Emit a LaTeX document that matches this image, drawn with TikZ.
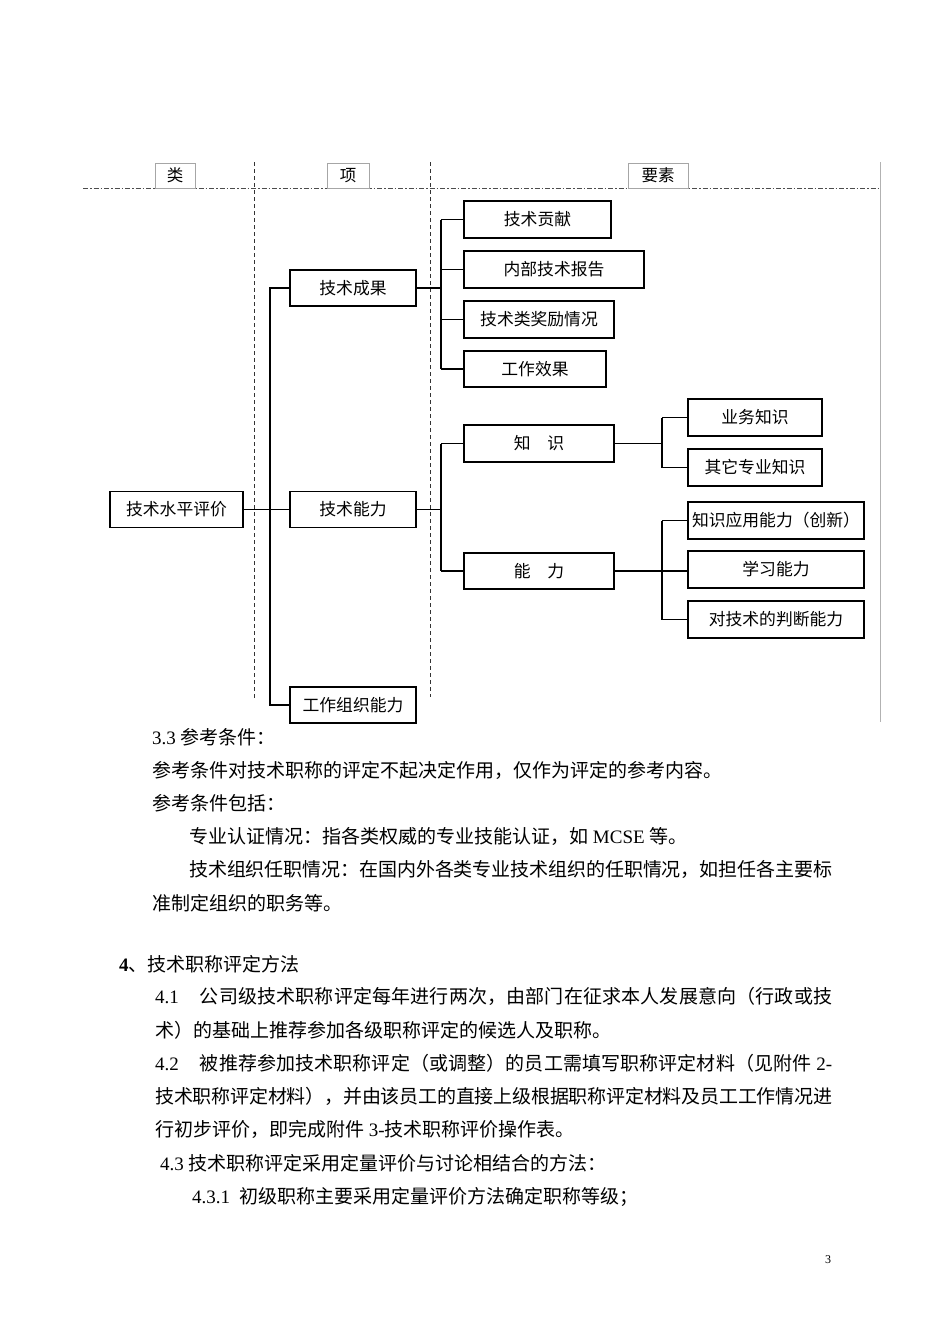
\documentclass[tikz,border=0pt]{standalone}
\usepackage{fontspec}
\setmainfont{Liberation Serif}
\newfontfamily\cjk{Noto Sans CJK SC}
\makeatletter
\def\spread#1{\spread@a#1\relax}
\def\spread@a#1{#1\spread@b}
\def\spread@b#1{\ifx\relax#1\else\hskip 0pt plus 1fil minus 1pt\relax#1\expandafter\spread@b\fi}
\makeatother
\tikzset{
  box/.style={draw=black, line width=1.1pt, fill=white, inner sep=0pt,
    font=\cjk\fontsize{16.8}{20}\selectfont, minimum height=36pt},
  lbl/.style={draw=black!35, line width=0.6pt, fill=white, inner sep=0pt,
    font=\cjk\fontsize{16.5}{20}\selectfont, minimum height=25pt},
  conn/.style={line width=1.1pt, black},
  txt/.style={anchor=base west, inner sep=0pt, font=\fontsize{19}{23}\selectfont},
  vdash/.style={line width=0.9pt, dash pattern=on 4pt off 3pt, black!80},
  hdash/.style={line width=0.9pt, dash pattern=on 5pt off 2pt on 1.5pt off 2pt, black!70},
}
\begin{document}
\begin{tikzpicture}[x=1pt, y=-1pt]
\useasboundingbox (0,0) rectangle (950,1344);
\fill[white] (0,0) rectangle (950,1344);

% header and column guides
\coordinate (hl) at (83,188);
\coordinate (hr) at (880,188);
\draw[hdash] (hl) -- (hr);
\coordinate (v1t) at (254,162);
\coordinate (v1b) at (254,700);
\coordinate (v2t) at (430,162);
\coordinate (v2b) at (430,697);
\draw[vdash] (v1t) -- (v1b);
\draw[vdash] (v2t) -- (v2b);
\coordinate (rt) at (880,162);
\coordinate (rb) at (880,722);
\draw[black!30, line width=0.8pt] (rt) -- (rb);

\node[lbl, minimum width=40pt] (hA) at (175,175.5) {类};
\node[lbl, minimum width=42pt] (hB) at (348,175.5) {项};
\node[lbl, minimum width=60pt] (hC) at (658,175.5) {要素};

% tree boxes
\node[box, minimum width=133pt] (root) at (176.5,509.5) {技术水平评价};
\node[box, minimum width=126pt] (tc) at (353,288) {技术成果};
\node[box, minimum width=126pt] (tn) at (353,509.5) {技术能力};
\node[box, minimum width=126pt] (gz) at (353,705) {工作组织能力};

\node[box, minimum width=147pt, minimum height=37pt] (e1) at (537.5,219.5) {技术贡献};
\node[box, minimum width=180pt, minimum height=37pt] (e2) at (554,269.5) {内部技术报告};
\node[box, minimum width=150pt, minimum height=37pt] (e3) at (539,319.5) {技术类奖励情况};
\node[box, minimum width=142pt] (e4) at (535,369) {工作效果};

\node[box, minimum width=150pt, minimum height=37pt] (zs) at (539,443.5) {知　识};
\node[box, minimum width=150pt] (nl) at (539,571) {能　力};

\node[box, minimum width=134pt, minimum height=37pt] (f1) at (755,417.5) {业务知识};
\node[box, minimum width=134pt, minimum height=37pt] (f2) at (755,467.5) {其它专业知识};

\node[box, minimum width=176pt, minimum height=37pt] (g1) at (776,520.5) {知识应用能力（创新）};
\node[box, minimum width=176pt, minimum height=37pt] (g2) at (776,569.5) {学习能力};
\node[box, minimum width=176pt, minimum height=37pt] (g3) at (776,619.5) {对技术的判断能力};

% connectors level 1
\coordinate (a1) at (270,288);
\coordinate (a2) at (270,705);
\draw[conn] (tc.west) -- (a1) -- (a2) -- (gz.west);
\draw[conn] (root.east) -- (tn.west);

% connectors level 2
\coordinate (b1) at (441,219.5);
\coordinate (b4) at (441,369);
\draw[conn] (b1) -- (b4);
\draw[conn] (tc.east) -- (tc.east -| b1);
\draw[conn] (e1.west -| b1) -- (e1.west);
\draw[conn] (e2.west -| b1) -- (e2.west);
\draw[conn] (e3.west -| b1) -- (e3.west);
\draw[conn] (e4.west -| b1) -- (e4.west);

\coordinate (c1) at (441,443.5);
\coordinate (c2) at (441,571);
\draw[conn] (c1) -- (c2);
\draw[conn] (tn.east) -- (tn.east -| c1);
\draw[conn] (c1) -- (zs.west);
\draw[conn] (c2) -- (nl.west);

% connectors level 3
\coordinate (d1) at (662,417.5);
\coordinate (d2) at (662,467.5);
\draw[conn] (d1) -- (d2);
\draw[conn] (zs.east) -- (zs.east -| d1);
\draw[conn] (d1) -- (f1.west);
\draw[conn] (d2) -- (f2.west);

\coordinate (k1) at (662,520.5);
\coordinate (k3) at (662,619.5);
\draw[conn] (k1) -- (k3);
\draw[conn] (nl.east) -- (nl.east -| g2.west);
\draw[conn] (k1) -- (g1.west);
\draw[conn] (k3) -- (g3.west);

% body text
\node[txt] (p1) at (152,744) {3.3 {\cjk 参考条件：}};
\node[txt] (p2) at (152,777) {\cjk 参考条件对技术职称的评定不起决定作用，仅作为评定的参考内容。};
\node[txt] (p3) at (152,810) {\cjk 参考条件包括：};
\node[txt] (p4) at (189,843) {{\cjk 专业认证情况：指各类权威的专业技能认证，如} MCSE {\cjk 等。}};
\node[txt] (p5) at (189,876) {\makebox[643pt][s]{\cjk\spread{技术组织任职情况：在国内外各类专业技术组织的任职情况，如担任各主要标}}};
\node[txt] (p6) at (152,910) {\cjk 准制定组织的职务等。};

\node[txt] (s4) at (119,971) {\textbf{4}{\cjk 、技术职称评定方法}};
\node[txt] (q1) at (155,1003) {\makebox[677pt][s]{4.1\hspace{21pt}{\cjk\spread{公司级技术职称评定每年进行两次，由部门在征求本人发展意向（行政或技}}}};
\node[txt] (q2) at (155,1037) {\cjk 术）的基础上推荐参加各级职称评定的候选人及职称。};
\node[txt] (q3) at (155,1070) {\makebox[677pt][s]{4.2\hspace{21pt}{\cjk\spread{被推荐参加技术职称评定（或调整）的员工需填写职称评定材料（见附件}}\hskip 4.75pt plus 1fil\relax 2-}};
\node[txt] (q4) at (155,1103) {\makebox[677pt][s]{\cjk\spread{技术职称评定材料），并由该员工的直接上级根据职称评定材料及员工工作情况进}}};
\node[txt] (q5) at (155,1136) {{\cjk 行初步评价，即完成附件} 3-{\cjk 技术职称评价操作表。}};
\node[txt] (q6) at (160,1170) {4.3 {\cjk 技术职称评定采用定量评价与讨论相结合的方法：}};
\node[txt] (q7) at (192,1203) {4.3.1\hspace{9pt}{\cjk 初级职称主要采用定量评价方法确定职称等级；}};

\node[anchor=base, inner sep=0pt, font=\fontsize{12}{14}\selectfont] (pg) at (828,1263) {3};
\end{tikzpicture}
\end{document}
